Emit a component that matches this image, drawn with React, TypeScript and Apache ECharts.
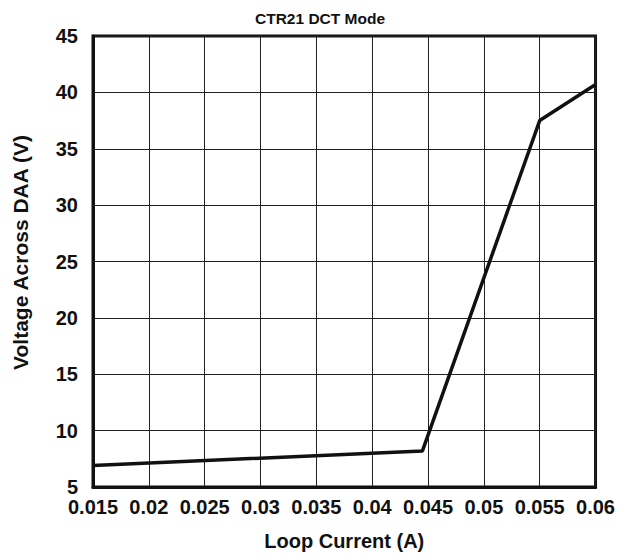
import React, { useEffect, useRef } from "react";
import * as echarts from "echarts";

const currents = [0.015, 0.0445, 0.055, 0.06];
const voltages = [6.9, 8.2, 37.5, 40.7];

export default function App() {
  const ref = useRef<HTMLDivElement>(null);
  useEffect(() => {
    const chart = echarts.init(ref.current!, null, { renderer: "svg" });
    const font = "'Liberation Sans', Arial, sans-serif";
    chart.setOption({
      animation: false,
      title: {
        text: "CTR21 DCT Mode",
        left: 250,
        top: 5,
        textStyle: { fontFamily: font, fontWeight: "bold", fontSize: 15.5, color: "#111" },
      },
      grid: {
        left: 93,
        right: 20,
        top: 36,
        bottom: 69,
        show: true,
        borderColor: "#111",
        borderWidth: 3,
        backgroundColor: "transparent",
      },
      xAxis: {
        type: "value",
        min: 0.015,
        max: 0.06,
        interval: 0.005,
        name: "Loop Current (A)",
        nameLocation: "middle",
        nameGap: 44,
        nameTextStyle: { fontFamily: font, fontWeight: "bold", fontSize: 20, color: "#111" },
        axisLine: { show: true, lineStyle: { color: "#111", width: 3 } },
        axisTick: { show: false },
        axisLabel: {
          fontFamily: font,
          fontWeight: "bold",
          fontSize: 20,
          lineHeight: 16,
          color: "#111",
          margin: 12,
          formatter: (v: number) => String(parseFloat(v.toFixed(4))),
        },
        splitLine: { show: true, lineStyle: { color: "#222", width: 1 } },
      },
      yAxis: {
        type: "value",
        min: 5,
        max: 45,
        interval: 5,
        name: "Voltage Across DAA (V)",
        nameLocation: "middle",
        nameGap: 62,
        nameTextStyle: {
          fontFamily: font,
          fontWeight: "bold",
          fontSize: 21,
          color: "#111",
          padding: [0, 0, 0, 18],
        },
        axisLine: { show: true, lineStyle: { color: "#111", width: 3 } },
        axisTick: { show: false },
        axisLabel: {
          fontFamily: font,
          fontWeight: "bold",
          fontSize: 20,
          lineHeight: 16,
          color: "#111",
          margin: 15,
        },
        splitLine: { show: true, lineStyle: { color: "#222", width: 1 } },
      },
      series: [
        {
          type: "line",
          data: currents.map((c, i) => [c, voltages[i]]),
          showSymbol: false,
          lineStyle: { color: "#111", width: 3.5 },
        },
      ],
    });
    return () => chart.dispose();
  }, []);
  return (
    <div
      ref={ref}
      style={{ position: "absolute", left: 0, top: 0, width: 618, height: 556 }}
    />
  );
}
